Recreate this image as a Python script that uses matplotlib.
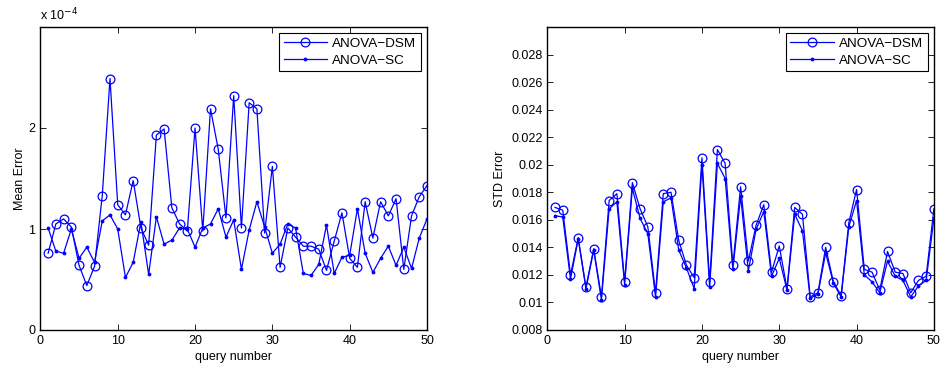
import numpy as np
import matplotlib
matplotlib.use("Agg")
import matplotlib.pyplot as plt
from matplotlib.ticker import FuncFormatter

plt.rcParams['font.family'] = ['Liberation Sans', 'DejaVu Sans']

# query numbers
queries = np.arange(1, 51)

# mean error (units of 1e-4)
mean_dsm = np.array([0.76, 1.05, 1.10, 1.02, 0.64, 0.44, 0.63, 1.33, 2.49, 1.24,
                     1.14, 1.48, 1.01, 0.84, 1.93, 1.99, 1.21, 1.05, 0.98, 2.00,
                     0.98, 2.19, 1.79, 1.11, 2.32, 1.01, 2.25, 2.19, 0.96, 1.62,
                     0.62, 1.01, 0.92, 0.83, 0.83, 0.80, 0.59, 0.88, 1.16, 0.71,
                     0.62, 1.27, 0.91, 1.27, 1.13, 1.30, 0.60, 1.13, 1.32, 1.43]) * 1e-4
mean_sc = np.array([1.01, 0.78, 0.76, 1.00, 0.71, 0.82, 0.67, 1.08, 1.14, 1.00,
                    0.52, 0.67, 1.07, 0.55, 1.12, 0.85, 0.89, 1.01, 1.00, 0.82,
                    1.01, 1.05, 1.20, 0.92, 1.09, 0.60, 0.99, 1.27, 1.02, 0.76,
                    0.85, 1.05, 1.01, 0.56, 0.54, 0.65, 1.04, 0.56, 0.72, 0.74,
                    1.20, 0.76, 0.57, 0.71, 0.83, 0.64, 0.82, 0.61, 0.91, 1.10]) * 1e-4

# std error
std_dsm = np.array([0.0169, 0.0167, 0.0120, 0.0147, 0.0111, 0.0139, 0.0104, 0.0174, 0.0179, 0.0115,
                    0.0187, 0.0168, 0.0155, 0.0107, 0.0179, 0.0180, 0.0145, 0.0127, 0.0118, 0.0205,
                    0.0115, 0.0211, 0.0201, 0.0127, 0.0184, 0.0130, 0.0156, 0.0171, 0.0122, 0.0141,
                    0.0110, 0.0169, 0.0164, 0.0104, 0.0107, 0.0140, 0.0115, 0.0105, 0.0158, 0.0182,
                    0.0124, 0.0122, 0.0109, 0.0137, 0.0122, 0.0121, 0.0107, 0.0116, 0.0119, 0.0168])
std_sc = np.array([0.0163, 0.0162, 0.0117, 0.0146, 0.0110, 0.0138, 0.0102, 0.0168, 0.0173, 0.0113,
                   0.0183, 0.0161, 0.0150, 0.0104, 0.0173, 0.0176, 0.0138, 0.0125, 0.0110, 0.0200,
                   0.0111, 0.0201, 0.0190, 0.0124, 0.0177, 0.0123, 0.0153, 0.0166, 0.0119, 0.0132,
                   0.0109, 0.0164, 0.0152, 0.0103, 0.0106, 0.0136, 0.0114, 0.0104, 0.0155, 0.0174,
                   0.0120, 0.0115, 0.0107, 0.0130, 0.0119, 0.0116, 0.0104, 0.0112, 0.0116, 0.0161])

blue = '#0000ff'
fs = 9

fig = plt.figure(figsize=(9.46, 3.72), dpi=100)
ax1 = fig.add_axes([40.4 / 946, 42 / 372, 386.6 / 946, 303 / 372])
ax2 = fig.add_axes([547.3 / 946, 42 / 372, 386.6 / 946, 303 / 372])


def style(ax):
    ax.set_xlim(0, 50)
    ax.set_xticks([0, 10, 20, 30, 40, 50])
    ax.tick_params(direction='in', top=True, right=True, labelsize=fs, length=4, width=0.6)
    for s in ax.spines.values():
        s.set_linewidth(1.0)
    ax.set_xlabel('query number', fontsize=fs, labelpad=3)
    leg = ax.legend(loc='upper right', fontsize=9.7, fancybox=False, framealpha=1,
                    edgecolor='black', borderpad=0.35, labelspacing=0.3,
                    handlelength=3.2, handletextpad=0.4, borderaxespad=0.45)
    leg.get_frame().set_linewidth(0.8)


ax1.plot(queries, mean_dsm, color=blue, lw=0.9, marker='o', ms=6.3, mfc='none',
         mec=blue, mew=0.9, label='ANOVA\u2212DSM')
ax1.plot(queries, mean_sc, color=blue, lw=0.9, marker='.', ms=3.5, label='ANOVA\u2212SC')
ax1.set_ylim(0, 3e-4)
ax1.set_yticks([0, 1e-4, 2e-4])
ax1.yaxis.set_major_formatter(FuncFormatter(lambda v, p: '%g' % round(v / 1e-4, 6)))
ax1.set_ylabel('Mean Error', fontsize=fs, labelpad=2)
ax1.text(0, 1.012, 'x 10$^{-4}$', transform=ax1.transAxes, fontsize=fs, va='bottom', ha='left')
style(ax1)

ax2.plot(queries, std_dsm, color=blue, lw=0.9, marker='o', ms=6.3, mfc='none',
         mec=blue, mew=0.9, label='ANOVA\u2212DSM')
ax2.plot(queries, std_sc, color=blue, lw=0.9, marker='.', ms=3.5, label='ANOVA\u2212SC')
ax2.set_ylim(0.008, 0.030)
ax2.set_yticks(np.arange(0.008, 0.0285, 0.002))
ax2.yaxis.set_major_formatter(FuncFormatter(lambda v, p: '%g' % round(v, 6)))
ax2.set_ylabel('STD Error', fontsize=fs, labelpad=4)
style(ax2)

fig.savefig('out.png', dpi=100)
